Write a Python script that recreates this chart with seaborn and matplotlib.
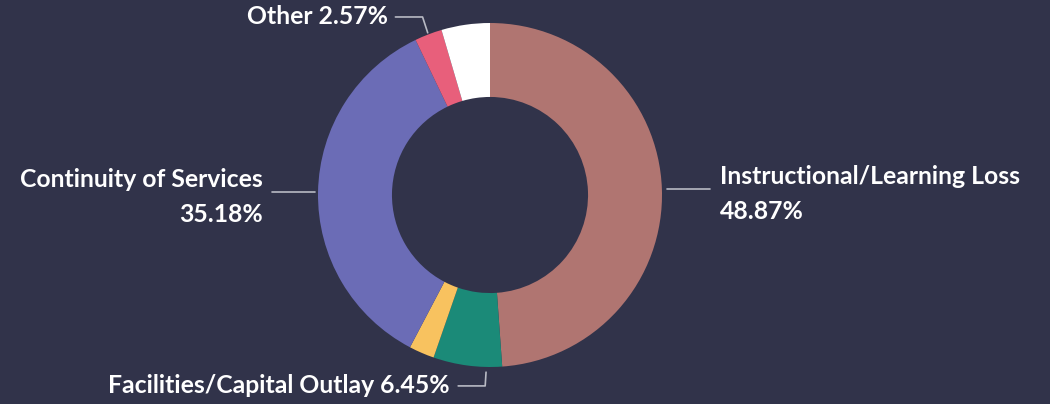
import numpy as np
import matplotlib
matplotlib.use('Agg')
import matplotlib.pyplot as plt
import seaborn as sns

# slice data (clockwise from 12 o'clock)
categories = ['Instructional/Learning Loss', 'Facilities/Capital Outlay', 'Unlabelled A',
              'Continuity of Services', 'Other', 'Unlabelled B']
shares = [48.87, 6.45, 2.38, 35.18, 2.57, 4.55]
colors = ['#b07571', '#1b8a78', '#f8c25f', '#6b6cb6', '#e85f7b', '#ffffff']

bg = '#31334a'
sns.set_theme(style='white')
plt.rcParams['font.family'] = ['Lato', 'DejaVu Sans']

fig = plt.figure(figsize=(10.5, 4.04), dpi=100, facecolor=bg)
# square axes centred on the donut
ax = fig.add_axes([318 / 1050, 37 / 404, 344 / 1050, 344 / 404])
ax.set_facecolor(bg)
ax.axis('off')

wedges, _ = ax.pie(shares, colors=colors, startangle=90, counterclock=False, radius=1,
                   wedgeprops=dict(width=0.43, edgecolor='none', linewidth=0))
ax.set_xlim(-1, 1)
ax.set_ylim(-1, 1)

line_c = '#b8bac4'
txt = dict(color='white', fontsize=17.8, fontweight='bold')


def mid_point(w, r=1.0):
    m = np.deg2rad((w.theta1 + w.theta2) / 2)
    return r * np.cos(m), r * np.sin(m)


def fmt(i):
    return f'{shares[i]:.2f}%'


# Instructional/Learning Loss (right)
x0, y0 = mid_point(wedges[0], 1.03)
ax.plot([x0, 1.28], [y0, y0], color=line_c, lw=1.2, clip_on=False)
ax.text(1.335, y0 - 0.03, categories[0] + '\n' + fmt(0), ha='left', va='center',
        linespacing=1.6, **txt)

# Continuity of Services (left)
x0, y0 = mid_point(wedges[3], 1.02)
ax.plot([x0, -1.27], [y0, y0], color=line_c, lw=1.2, clip_on=False)
ax.text(-1.32, y0 - 0.03, categories[3] + '\n' + fmt(3), ha='right', va='center',
        linespacing=1.6, multialignment='right', **txt)

# Other (top)
x0, y0 = mid_point(wedges[4], 1.01)
ax.plot([x0, x0 - 0.03, -0.55], [y0, 1.035, 1.035], color=line_c, lw=1.2, clip_on=False)
ax.text(-0.595, 1.035, categories[4] + ' ' + fmt(4), ha='right', va='center', **txt)

# Facilities/Capital Outlay (bottom)
x0, y0 = mid_point(wedges[1], 1.03)
ax.plot([-0.023, -0.028, -0.185], [-1.03, -1.11, -1.11], color=line_c, lw=1.2, clip_on=False)
ax.text(-0.235, -1.11, categories[1] + ' ' + fmt(1), ha='right', va='center', **txt)

fig.savefig('out.png', dpi=100, facecolor=bg)
